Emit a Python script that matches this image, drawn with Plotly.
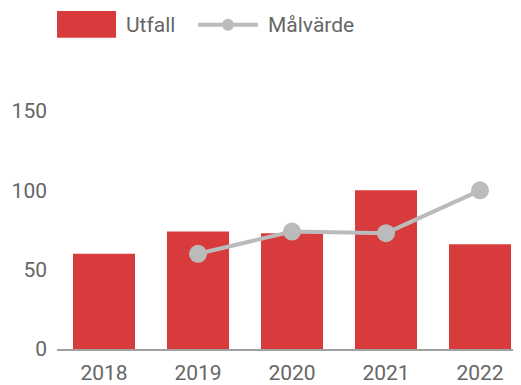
import plotly.graph_objects as go

years = ["2018", "2019", "2020", "2021", "2022"]
utfall = [60, 74, 73, 100, 66]
malvarde_years = ["2019", "2020", "2021", "2022"]
malvarde = [60, 74, 73, 100]
y_ticks = [0, 50, 100, 150]

RED = "#D73B3B"
GREY = "#BBBBBB"
TXT = "#666666"

OFF = 8  # page body margin
W, H = 521 - OFF, 385 - OFF
L, R_EDGE = 57 - OFF, 521 - OFF
TOP, BOT = 110.5 - OFF, 349.5 - OFF
PW, PH = R_EDGE - L, BOT - TOP

def px(x):
    return (x - OFF - L) / PW

def py(y):
    return (BOT - (y - OFF)) / PH

fig = go.Figure()
fig.add_trace(go.Bar(x=years, y=utfall, name="Utfall", marker=dict(color=RED, line=dict(width=0))))
fig.add_trace(go.Scatter(x=malvarde_years, y=malvarde, name="Målvärde", mode="lines+markers",
                         line=dict(color=GREY, width=4),
                         marker=dict(color=GREY, size=18), cliponaxis=False))

shapes = [
    dict(type="rect", xref="paper", yref="paper", x0=px(57), x1=px(116), y0=py(37), y1=py(10),
         fillcolor=RED, line=dict(width=0)),
    dict(type="line", xref="paper", yref="paper", x0=px(198), x1=px(258), y0=py(24), y1=py(24),
         line=dict(color=GREY, width=4)),
    dict(type="circle", xref="paper", yref="paper", xsizemode="pixel", ysizemode="pixel",
         xanchor=px(228), yanchor=py(24), x0=-6, x1=6, y0=-6, y1=6,
         fillcolor=GREY, line=dict(width=0)),
]
annotations = [
    dict(text="Utfall", xref="paper", yref="paper", x=px(124), y=py(24), xanchor="left", yanchor="middle",
         showarrow=False, font=dict(family="Roboto", size=21, color=TXT)),
    dict(text="Målvärde", xref="paper", yref="paper", x=px(266), y=py(24), xanchor="left", yanchor="middle",
         showarrow=False, font=dict(family="Roboto", size=21, color=TXT)),
]

fig.update_layout(
    width=W, height=H,
    margin=dict(l=L, r=W - R_EDGE, t=TOP, b=H - BOT),
    paper_bgcolor="white", plot_bgcolor="white",
    showlegend=False, bargap=0.34,
    shapes=shapes, annotations=annotations,
    font=dict(family="Roboto", size=21, color=TXT),
    xaxis=dict(type="category", range=[-0.5, 4.436], showline=True, linecolor="#A0A0A0", linewidth=2,
               showgrid=False, ticks="", ticklabelstandoff=4, tickfont=dict(size=21, color=TXT)),
    yaxis=dict(range=[0, 150], tickvals=y_ticks, showgrid=False, zeroline=False, showline=False,
               ticks="", ticklabelstandoff=9, tickfont=dict(size=21, color=TXT)),
)

fig.write_html("out.html")
